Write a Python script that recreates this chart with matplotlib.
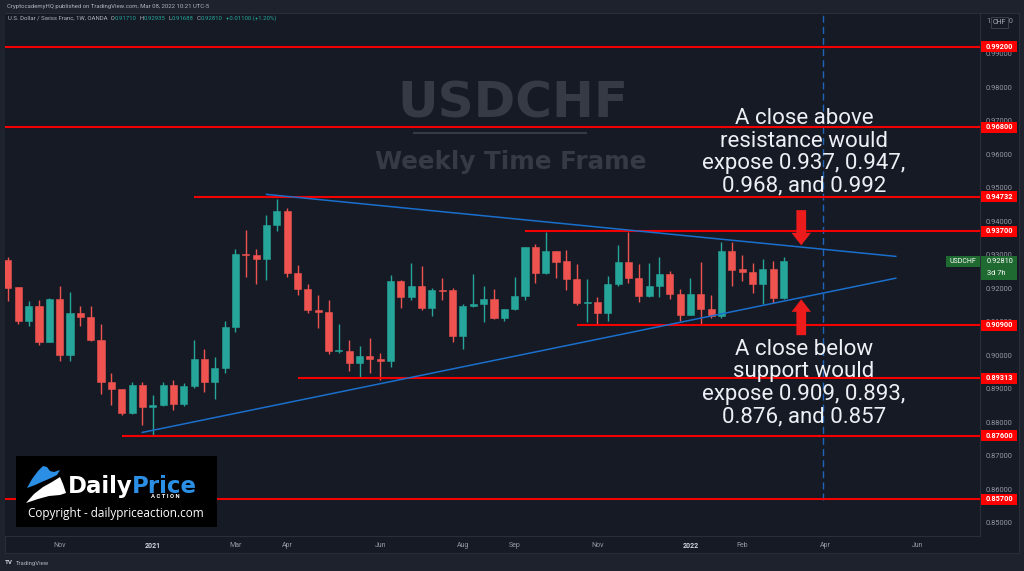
import numpy as np
import pandas as pd
import matplotlib
matplotlib.use("Agg")
import matplotlib.pyplot as plt
import matplotlib.dates as mdates
from matplotlib.patches import Rectangle, Polygon

plt.rcParams['font.family'] = ['Roboto', 'DejaVu Sans']

# USDCHF weekly candles, week of 28 Sep 2020 up to week of 7 Mar 2022
weeks = pd.date_range("2020-09-28", periods=76, freq="7D")
opens = [0.92855, 0.9203, 0.9103, 0.9147, 0.9041, 0.9169, 0.9000, 0.9125, 0.9113, 0.9046,
         0.8919, 0.8899, 0.8828, 0.8911, 0.8847, 0.8852, 0.8911, 0.8855, 0.8909, 0.8988,
         0.8919, 0.8963, 0.9085, 0.9303, 0.9299, 0.9288, 0.9390, 0.9430, 0.9244, 0.9199,
         0.9135, 0.9129, 0.9012, 0.9013, 0.8977, 0.8997, 0.8990, 0.8983, 0.9222, 0.9174,
         0.9206, 0.9141, 0.9196, 0.9194, 0.9058, 0.9146, 0.9153, 0.9168, 0.9110, 0.9137,
         0.9178, 0.9323, 0.9244, 0.9310, 0.9281, 0.9229, 0.9156, 0.9158, 0.9126, 0.9214,
         0.9277, 0.9232, 0.9176, 0.9206, 0.9242, 0.9184, 0.9121, 0.9182, 0.9139, 0.9118,
         0.9310, 0.9256, 0.9248, 0.9214, 0.9256, 0.91710]
highs = [0.9293, 0.9204, 0.9161, 0.9164, 0.9171, 0.9207, 0.9190, 0.9148, 0.9148, 0.9093,
         0.8946, 0.8900, 0.8919, 0.8919, 0.8883, 0.8919, 0.8926, 0.8918, 0.9045, 0.9018,
         0.8995, 0.9102, 0.9318, 0.9375, 0.9318, 0.9418, 0.9467, 0.9438, 0.9269, 0.9214,
         0.9181, 0.9164, 0.9093, 0.9047, 0.9028, 0.9053, 0.9006, 0.9239, 0.9224, 0.9274,
         0.9266, 0.9202, 0.9232, 0.9202, 0.9154, 0.9242, 0.9206, 0.9199, 0.9138, 0.9234,
         0.9324, 0.9333, 0.9368, 0.9310, 0.9313, 0.9272, 0.9227, 0.9174, 0.9236, 0.9330,
         0.9368, 0.9271, 0.9274, 0.9293, 0.9252, 0.9199, 0.9232, 0.9277, 0.9179, 0.9338,
         0.9338, 0.9298, 0.9274, 0.9288, 0.9280, 0.92935]
lows = [0.9162, 0.9093, 0.9088, 0.9031, 0.9039, 0.8983, 0.8984, 0.9088, 0.9044, 0.8884,
        0.8853, 0.8823, 0.8826, 0.8793, 0.8762, 0.8850, 0.8838, 0.8848, 0.8901, 0.8890,
        0.8871, 0.8948, 0.9070, 0.9234, 0.9214, 0.9224, 0.9371, 0.9234, 0.9179, 0.9127,
        0.9080, 0.9005, 0.9008, 0.8954, 0.8931, 0.8946, 0.8926, 0.8965, 0.9142, 0.9166,
        0.9134, 0.9118, 0.9164, 0.9040, 0.9018, 0.9145, 0.9100, 0.9108, 0.9102, 0.9134,
        0.9164, 0.9216, 0.9243, 0.9231, 0.9194, 0.9149, 0.9100, 0.9093, 0.9103, 0.9206,
        0.9216, 0.9159, 0.9175, 0.9174, 0.9167, 0.9103, 0.9119, 0.9093, 0.9110, 0.9110,
        0.9206, 0.9221, 0.9186, 0.9152, 0.9156, 0.91688]
closes = [0.9202, 0.9103, 0.9146, 0.9041, 0.9169, 0.9000, 0.9125, 0.9113, 0.9046, 0.8919,
          0.8899, 0.8828, 0.8911, 0.8847, 0.8852, 0.8911, 0.8855, 0.8909, 0.8988, 0.8919,
          0.8963, 0.9085, 0.9303, 0.9298, 0.9288, 0.9390, 0.9430, 0.9244, 0.9199, 0.9134,
          0.9128, 0.9012, 0.9013, 0.8977, 0.8998, 0.8989, 0.8983, 0.9222, 0.9174, 0.9206,
          0.9141, 0.9194, 0.9192, 0.9058, 0.9146, 0.9153, 0.9168, 0.9110, 0.9137, 0.9178,
          0.9323, 0.9244, 0.9310, 0.9279, 0.9228, 0.9156, 0.9159, 0.9126, 0.9214, 0.9277,
          0.9232, 0.9176, 0.9206, 0.9242, 0.9184, 0.9121, 0.9182, 0.9139, 0.9118, 0.9310,
          0.9254, 0.9248, 0.9214, 0.9256, 0.9171, 0.92810]

# support / resistance levels and the date each drawn line starts
levels = [0.99200, 0.96800, 0.94732, 0.93700, 0.90900, 0.89313, 0.87600, 0.85700]
level_starts = ["2020-09-26", "2020-09-26", "2021-02-01", "2021-09-13",
                "2021-10-18", "2021-04-12", "2020-12-14", "2020-09-26"]

# triangle trendlines
upper_dates = ["2021-03-22", "2022-05-22"]
upper_prices = [0.9480, 0.9295]
lower_dates = ["2020-12-28", "2022-05-22"]
lower_prices = [0.8770, 0.9230]

tick_dates = ["2020-11-02", "2021-01-04", "2021-03-01", "2021-04-05", "2021-06-07", "2021-08-02",
              "2021-09-06", "2021-11-01", "2022-01-03", "2022-02-07", "2022-04-04", "2022-06-06"]
tick_labels = ["Nov", "2021", "Mar", "Apr", "Jun", "Aug", "Sep", "Nov", "2022", "Feb", "Apr", "Jun"]
price_ticks = [0.85, 0.86, 0.87, 0.88, 0.89, 0.90, 0.91, 0.92, 0.93, 0.94,
               0.95, 0.96, 0.97, 0.98, 0.99, 1.00]

BG = '#161a25'
FRAME = '#1e222d'
GRID = '#2a2e39'
TXT = '#9598a1'
GREEN = '#26a69a'
RED = '#ef5350'
LINE_RED = '#f20000'
BLUE = '#1a6fcc'

W, H = 1024, 571
d2n = lambda s: mdates.date2num(pd.to_datetime(s))

fig = plt.figure(figsize=(W / 100, H / 100), dpi=100, facecolor=FRAME)
fig.patches.append(Rectangle((5 / W, 1 - 553 / H), 1014 / W, 540 / H, transform=fig.transFigure,
                             facecolor=BG, edgecolor=GRID, lw=0.8, zorder=-5))

ax = fig.add_axes([5 / W, 1 - 536 / H, 975 / W, 522 / H])
ax.set_facecolor(BG)
ax.set_xlim(d2n("2020-09-26"), d2n("2022-07-18"))
ax.set_ylim(0.8461, 1.0018)
for s in ['top', 'left']:
    ax.spines[s].set_visible(False)
for s in ['right', 'bottom']:
    ax.spines[s].set_color(GRID)
    ax.spines[s].set_linewidth(0.8)

# price axis
ax.yaxis.tick_right()
ax.set_yticks(price_ticks)
ax.set_yticklabels([f"{p:.5f}" for p in price_ticks])
ax.tick_params(axis='y', length=0, pad=4.3, labelsize=5.4, labelcolor=TXT)
# time axis
ax.set_xticks(d2n(tick_dates))
ax.set_xticklabels(tick_labels)
ax.tick_params(axis='x', length=0, pad=4.5, labelsize=5, labelcolor=TXT)
for lab in ax.get_xticklabels():
    if lab.get_text().startswith("20"):
        lab.set_color('#d1d4dc')
        lab.set_fontweight('bold')

# watermark
ax.text(0.521, 0.8295, "USDCHF", transform=ax.transAxes, ha='center', va='center',
        fontsize=36, fontweight='bold', color='#363a45', family='DejaVu Sans', zorder=0.5)
ax.plot([0.4195, 0.5959], [0.772, 0.772], transform=ax.transAxes, color='#363a45', lw=1.5, zorder=0.5)
ax.text(0.519, 0.7165, "Weekly Time Frame", transform=ax.transAxes, ha='center', va='center',
        fontsize=17.7, fontweight='bold', color='#363a45', family='DejaVu Sans', zorder=0.5)

# candles
xs = mdates.date2num(weeks)
o = np.array(opens)
c = np.array(closes)
cols = np.where(c >= o, GREEN, RED)
ax.vlines(xs, lows, highs, colors=cols, lw=1.0, zorder=3)
ax.bar(xs, np.maximum(np.abs(c - o), 0.00025), bottom=np.minimum(o, c), width=4.8,
       color=cols, edgecolor=cols, lw=0.4, zorder=4)

# levels
xr = ax.get_xlim()[1]
for lvl, st in zip(levels, level_starts):
    ax.hlines(lvl, d2n(st), xr, colors=LINE_RED, lw=1.5, zorder=5)
    ax.add_patch(Rectangle((1.001, lvl - 0.00164), 0.037, 0.00328, transform=ax.get_yaxis_transform(),
                           facecolor='#ff0000', edgecolor='none', clip_on=False, zorder=6))
    ax.text(1.0195, lvl, f"{lvl:.5f}", transform=ax.get_yaxis_transform(), ha='center', va='center',
            fontsize=5.3, color='white', fontweight='bold', clip_on=False, zorder=7)

# trendlines
ax.plot(d2n(upper_dates), upper_prices, color=BLUE, lw=1.1, zorder=5)
ax.plot(d2n(lower_dates), lower_prices, color=BLUE, lw=1.1, zorder=5)
ax.vlines(d2n("2022-04-03"), 0.8568, 1.0018, colors='#1e63b8', linestyles=(0, (5, 3)), lw=1.0, zorder=2)

# arrows
arrow_x = d2n("2022-03-19")
astyle = "simple,head_length=0.9,head_width=1.4,tail_width=0.7"
ax.annotate("", xy=(arrow_x, 0.9328), xytext=(arrow_x, 0.9433),
            arrowprops=dict(arrowstyle=astyle, mutation_scale=10, color='#ec1c1c', lw=0,
                            shrinkA=0, shrinkB=0), zorder=8)
ax.annotate("", xy=(arrow_x, 0.9167), xytext=(arrow_x, 0.9060),
            arrowprops=dict(arrowstyle=astyle, mutation_scale=10, color='#ec1c1c', lw=0,
                            shrinkA=0, shrinkB=0), zorder=8)

# notes
ax.text(0.8195, 0.7347, "A close above\nresistance would\nexpose 0.937, 0.947,\n0.968, and 0.992",
        transform=ax.transAxes, ha='center', va='center', fontsize=16, color='#eceff4',
        linespacing=1.1, zorder=9)
ax.text(0.8195, 0.2931, "A close below\nsupport would\nexpose 0.909, 0.893,\n0.876, and 0.857",
        transform=ax.transAxes, ha='center', va='center', fontsize=16, color='#eceff4',
        linespacing=1.1, zorder=9)

# last price tags
tag = '#1f6a31'
ax.add_patch(Rectangle((1.001, 0.9224), 0.037, 0.0071, transform=ax.get_yaxis_transform(),
                       facecolor=tag, edgecolor='none', clip_on=False, zorder=6))
ax.text(1.0072, closes[-1], f"{closes[-1]:.5f}", transform=ax.get_yaxis_transform(), ha='left',
        va='center', fontsize=5.3, color='white', clip_on=False, zorder=7)
ax.text(1.0072, 0.9245, "3d 7h", transform=ax.get_yaxis_transform(), ha='left',
        va='center', fontsize=5.3, color='white', clip_on=False, zorder=7)
ax.add_patch(Rectangle((0.9651, 0.92626), 0.0349, 0.00327, transform=ax.get_yaxis_transform(),
                       facecolor=tag, edgecolor='none', clip_on=False, zorder=6))
ax.text(0.9826, 0.9279, "USDCHF", transform=ax.get_yaxis_transform(), ha='center', va='center',
        fontsize=5, color='white', clip_on=False, zorder=7)
ax.text(1.02, 0.99927, "CHF", transform=ax.get_yaxis_transform(), ha='center', va='center',
        fontsize=5, color='#b2b5be', clip_on=False, zorder=7,
        bbox=dict(boxstyle='square,pad=0.3', fc=BG, ec='#434651', lw=0.6))

# header + legend row
fig.text(7 / W, 1 - 6.5 / H, "CryptocademyHQ published on TradingView.com, Mar 08, 2022 10:21 UTC-5",
         fontsize=4.3, color='#b2b5be', va='center')
chg = closes[-1] - closes[-2]
parts = [("U.S. Dollar / Swiss Franc, 1W, OANDA  O", '#b2b5be'), (f"{opens[-1]:.5f}", GREEN),
         ("  H", '#b2b5be'), (f"{highs[-1]:.5f}", GREEN), ("  L", '#b2b5be'), (f"{lows[-1]:.5f}", GREEN),
         ("  C", '#b2b5be'), (f"{closes[-1]:.5f}", GREEN),
         (f"  {chg:+.5f} ({chg / closes[-2] * 100:+.2f}%)", GREEN)]
prev = fig.text(8 / W, 1 - 20 / H, parts[0][0], fontsize=4.3, color=parts[0][1], va='baseline')
for s, col in parts[1:]:
    prev = ax.annotate(s, xy=(1, 0), xycoords=prev, xytext=(0, 0), textcoords='offset points',
                       va='bottom', ha='left', fontsize=4.3, color=col, annotation_clip=False)

# footer
fig.text(5 / W, 1 - 563 / H, "TV", fontsize=4.5, fontweight='bold', color='#d1d4dc', va='center')
fig.text(16 / W, 1 - 563 / H, "TradingView", fontsize=4.3, color='#b2b5be', va='center')

# logo box
lax = fig.add_axes([16 / W, 1 - 527 / H, 201 / W, 71 / H])
lax.set_axis_off()
lax.set_xlim(0, 201)
lax.set_ylim(71, 0)
lax.add_patch(Rectangle((0, 0), 201, 71, facecolor='black', edgecolor='none'))
lax.add_patch(Polygon([(11, 32), (16, 23), (22, 15), (27, 10), (31, 11), (34, 15), (38, 16), (44, 14),
                       (41, 19), (35, 22), (28, 25), (19, 29)], closed=True, facecolor='#2b8fe5'))
lax.add_patch(Polygon([(10, 47), (18, 38), (27, 31), (36, 26), (44, 21), (47, 28), (50, 37), (44, 39),
                       (33, 40), (22, 43)], closed=True, facecolor='white'))
lax.text(52, 37, "Daily", fontsize=16.5, fontweight='bold', color='white', family='DejaVu Sans',
         va='baseline')
lax.text(116, 37, "Price", fontsize=16.5, fontweight='bold', color='#2b8fe5', family='DejaVu Sans',
         va='baseline')
lax.text(149, 40, "A C T I O N", fontsize=4.2, fontweight='bold', color='white', ha='center', va='center')
lax.text(100, 58, "Copyright - dailypriceaction.com", fontsize=8.5, color='white', ha='center',
         va='center', family='Open Sans')

fig.savefig("out.png", dpi=100, facecolor=FRAME)
